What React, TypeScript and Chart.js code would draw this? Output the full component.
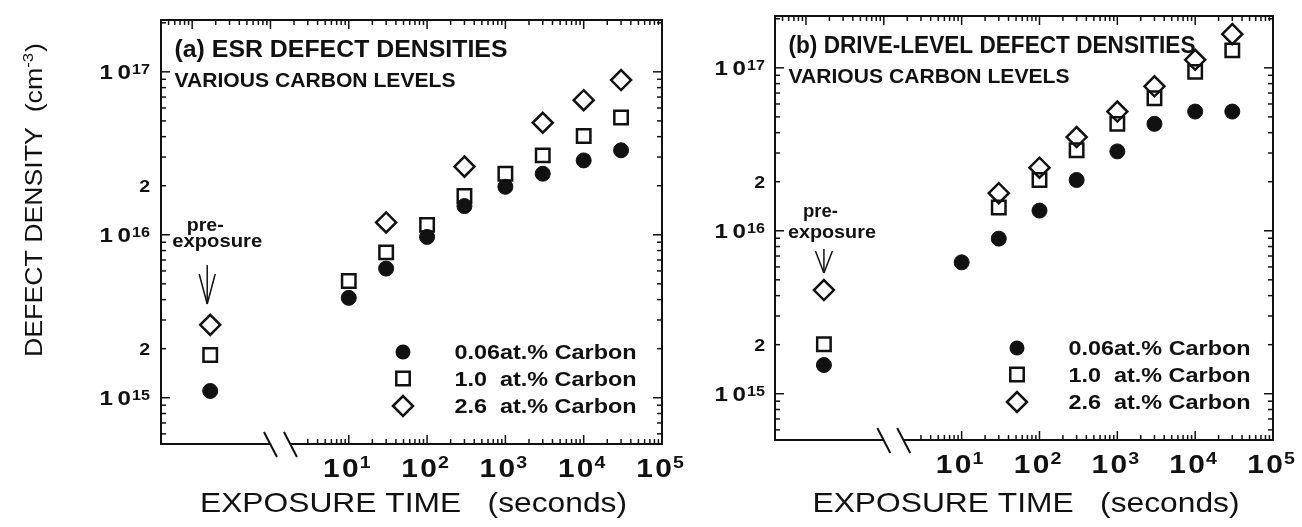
import React, { useEffect, useRef } from 'react';
import { Chart, registerables } from 'chart.js';

Chart.register(...registerables);

// ---------------- data ----------------
const EXPOSURE_TIMES = [10, 30, 100, 300, 1000, 3000, 10000, 30000];
const PRE_EXPOSURE_X = 0.17; // position used for the "pre-exposure" column (left of the axis break)
const SERIES_LABELS = ['0.06at.% Carbon', '1.0  at.% Carbon', '2.6  at.% Carbon'];

// (a) ESR defect densities, cm^-3  [0.06%, 1.0%, 2.6%] pre-exposure
const ESR_PRE = [1.1e15, 1.83e15, 2.8e15];
const ESR_C006 = [4.1e15, 6.2e15, 9.7e15, 1.5e16, 1.97e16, 2.37e16, 2.86e16, 3.3e16];
const ESR_C10 = [5.2e15, 7.8e15, 1.15e16, 1.73e16, 2.37e16, 3.07e16, 4.04e16, 5.25e16];
const ESR_C26 = [null, 1.19e16, null, 2.62e16, null, 4.87e16, 6.7e16, 8.9e16];

// (b) drive-level defect densities, cm^-3
const DL_PRE = [1.5e15, 2.01e15, 4.33e15];
const DL_C006 = [6.4e15, 8.95e15, 1.33e16, 2.05e16, 3.07e16, 4.53e16, 5.39e16, 5.39e16];
const DL_C10 = [null, 1.39e16, 2.05e16, 3.12e16, 4.53e16, 6.5e16, 9.44e16, 1.28e17];
const DL_C26 = [null, 1.7e16, 2.44e16, 3.76e16, 5.39e16, 7.7e16, 1.12e17, 1.61e17];

// axes
const X_MIN = 0.04;
const X_MAX = 1e5;
const Y_MIN = 5.2e14;
const Y_MAX = 2.08e17;
const X_BREAK = [1, 1.8];
const X_BOTTOM_TICK_START = 2.5;
const X_DECADE_TICKS = [10, 100, 1000, 10000, 100000];
const X_DECADE_EXPONENTS = ['1', '2', '3', '4', '5'];
const Y_DECADE_TICKS = [1e15, 1e16, 1e17];
const Y_DECADE_EXPONENTS = ['15', '16', '17'];
const Y_TWO_TICKS = [2e15, 2e16];

const FONT = '"Liberation Sans", Arial, Helvetica, sans-serif';
const INK = '#111';

const SERIES_STYLES = [
  { pointStyle: 'circle', radius: 7.5, fill: INK, width: 1 },
  { pointStyle: 'rect', radius: 9.5, fill: 'rgba(0,0,0,0)', width: 2.5 },
  { pointStyle: 'rectRot', radius: 10, fill: 'rgba(0,0,0,0)', width: 2.5 },
];

type PanelCfg = {
  key: string;
  canvasLeft: number;
  canvasWidth: number;
  padding: { left: number; right: number; top: number; bottom: number };
  title: string;
  titleWidth: number;
  subtitle: string;
  pre: number[];
  series: (number | null)[][];
  preText: { preDx: number; preY: number; preW: number; expDx: number; expY: number; expW: number };
  arrow: { dx: number; y0: number; y1: number; headY: number; half: number };
  yTitle: boolean;
  yLabelGap: number;
};

const PANELS: PanelCfg[] = [
  {
    key: 'a',
    canvasLeft: 0,
    canvasWidth: 700,
    padding: { left: 161, right: 38, top: 20, bottom: 83 },
    title: '(a) ESR DEFECT DENSITIES',
    titleWidth: 333,
    subtitle: 'VARIOUS CARBON LEVELS',
    pre: ESR_PRE,
    series: [ESR_C006, ESR_C10, ESR_C26],
    preText: { preDx: -5, preY: 231, preW: 37, expDx: 7, expY: 247, expW: 90 },
    arrow: { dx: -3, y0: 265, y1: 304, headY: 274, half: 8 },
    yTitle: true,
    yLabelGap: 11,
  },
  {
    key: 'b',
    canvasLeft: 700,
    canvasWidth: 602,
    padding: { left: 75, right: 29, top: 16, bottom: 87 },
    title: '(b) DRIVE-LEVEL DEFECT DENSITIES',
    titleWidth: 407,
    subtitle: 'VARIOUS CARBON LEVELS',
    pre: DL_PRE,
    series: [DL_C006, DL_C10, DL_C26],
    preText: { preDx: -3.5, preY: 217, preW: 35, expDx: 8, expY: 238, expW: 88 },
    arrow: { dx: 0, y0: 249, y1: 273, headY: 251, half: 8.5 },
    yTitle: false,
    yLabelGap: 10,
  },
];

// ---------------- helpers ----------------
function points(pre: number, vals: (number | null)[]) {
  const pts: { x: number; y: number }[] = [{ x: PRE_EXPOSURE_X, y: pre }];
  EXPOSURE_TIMES.forEach((t, i) => {
    const v = vals[i];
    if (v != null) pts.push({ x: t, y: v });
  });
  return pts;
}

function logTicks(min: number, max: number) {
  const out: { v: number; major: boolean }[] = [];
  for (let e = Math.floor(Math.log10(min)); e <= Math.ceil(Math.log10(max)); e++) {
    for (let m = 1; m <= 9; m++) {
      const v = m * Math.pow(10, e);
      if (v >= min * 1.0001 && v <= max * 0.9999) out.push({ v, major: m === 1 });
    }
  }
  return out;
}

function line(ctx: CanvasRenderingContext2D, x1: number, y1: number, x2: number, y2: number) {
  ctx.beginPath();
  ctx.moveTo(x1, y1);
  ctx.lineTo(x2, y2);
  ctx.stroke();
}

function txt(
  ctx: CanvasRenderingContext2D,
  s: string,
  x: number,
  y: number,
  font: string,
  align: 'left' | 'center' | 'right',
  width?: number,
  sx = 1
) {
  ctx.save();
  ctx.font = font;
  ctx.textAlign = 'left';
  ctx.textBaseline = 'alphabetic';
  const m = ctx.measureText(s).width;
  const k = width ? width / m : sx;
  const w = m * k;
  const x0 = align === 'center' ? x - w / 2 : align === 'right' ? x - w : x;
  ctx.translate(x0, y);
  ctx.scale(k, 1);
  ctx.fillText(s, 0, 0);
  ctx.restore();
}

function pow10Label(
  ctx: CanvasRenderingContext2D,
  exp: string,
  ax: number,
  base: number,
  size: number,
  supSize: number,
  raise: number,
  align: 'center' | 'right',
  sx: number,
  gap: number
) {
  ctx.save();
  ctx.textAlign = 'left';
  ctx.textBaseline = 'alphabetic';
  ctx.font = `bold ${size}px ${FONT}`;
  const w1 = ctx.measureText('1').width;
  const w0 = ctx.measureText('0').width;
  ctx.font = `bold ${supSize}px ${FONT}`;
  const ws = ctx.measureText(exp).width;
  const total = (w1 + gap + w0 + 1 + ws) * sx;
  const x0 = align === 'center' ? ax - total / 2 : ax - total;
  ctx.translate(x0, 0);
  ctx.scale(sx, 1);
  ctx.font = `bold ${size}px ${FONT}`;
  ctx.fillText('1', 0, base);
  ctx.fillText('0', w1 + gap, base);
  ctx.font = `bold ${supSize}px ${FONT}`;
  ctx.fillText(exp, w1 + gap + w0 + 1, base - raise);
  ctx.restore();
}

function marker(ctx: CanvasRenderingContext2D, idx: number, x: number, y: number) {
  const st = SERIES_STYLES[idx];
  ctx.save();
  ctx.strokeStyle = INK;
  ctx.fillStyle = INK;
  ctx.lineWidth = st.width;
  ctx.beginPath();
  if (st.pointStyle === 'circle') {
    ctx.arc(x, y, st.radius, 0, Math.PI * 2);
    ctx.fill();
  } else if (st.pointStyle === 'rect') {
    const h = st.radius * Math.SQRT1_2;
    ctx.rect(x - h, y - h, 2 * h, 2 * h);
    ctx.stroke();
  } else {
    const r = st.radius;
    ctx.moveTo(x - r, y);
    ctx.lineTo(x, y - r);
    ctx.lineTo(x + r, y);
    ctx.lineTo(x, y + r);
    ctx.closePath();
    ctx.stroke();
  }
  ctx.restore();
}

function decorPlugin(cfg: PanelCfg) {
  return {
    id: 'decor' + cfg.key,
    afterDraw(chart: any) {
      const ctx: CanvasRenderingContext2D = chart.ctx;
      const a = chart.chartArea;
      const xs = chart.scales.x;
      const ys = chart.scales.y;
      ctx.save();
      ctx.strokeStyle = INK;
      ctx.fillStyle = INK;
      ctx.lineCap = 'butt';

      // frame with axis break
      ctx.lineWidth = 2;
      const b1 = xs.getPixelForValue(X_BREAK[0]);
      const b2 = xs.getPixelForValue(X_BREAK[1]);
      line(ctx, a.left - 1, a.top, a.right + 1, a.top);
      line(ctx, a.left, a.top, a.left, a.bottom + 1);
      line(ctx, a.right, a.top, a.right, a.bottom + 1);
      line(ctx, a.left - 1, a.bottom, b1, a.bottom);
      line(ctx, b2, a.bottom, a.right + 1, a.bottom);
      [b1, b2].forEach((bx) => line(ctx, bx - 6.5, a.bottom - 12, bx + 6.5, a.bottom + 13));

      // ticks (inward, all four sides)
      ctx.lineWidth = 1.5;
      for (const t of logTicks(X_MIN, X_MAX)) {
        const px = xs.getPixelForValue(t.v);
        const len = t.major ? 9 : 5;
        line(ctx, px, a.top, px, a.top + len);
        if (t.v >= X_BOTTOM_TICK_START) line(ctx, px, a.bottom, px, a.bottom - len);
      }
      for (const t of logTicks(Y_MIN, Y_MAX)) {
        const py = ys.getPixelForValue(t.v);
        const len = t.major ? 9 : 5;
        line(ctx, a.left, py, a.left + len, py);
        line(ctx, a.right, py, a.right - len, py);
      }

      // tick labels
      X_DECADE_TICKS.forEach((v, i) => {
        const px = xs.getPixelForValue(v);
        pow10Label(ctx, X_DECADE_EXPONENTS[i], px - 2, a.bottom + 33, 26, 17, 9, 'center', 1.15, 2);
      });
      Y_DECADE_TICKS.forEach((v, i) => {
        const py = ys.getPixelForValue(v);
        pow10Label(ctx, Y_DECADE_EXPONENTS[i], a.left - cfg.yLabelGap, py + 7.5, 21, 14, 5, 'right', 1.15, 4);
      });
      Y_TWO_TICKS.forEach((v) => {
        const py = ys.getPixelForValue(v);
        txt(ctx, '2', a.left - cfg.yLabelGap, py + 6, `bold 17px ${FONT}`, 'right', undefined, 1.15);
      });

      // in-plot titles
      txt(ctx, cfg.title, a.left + 13.5, a.top + 37, `bold 23px ${FONT}`, 'left', cfg.titleWidth);
      txt(ctx, cfg.subtitle, a.left + 13.5, a.top + 66.5, `bold 20px ${FONT}`, 'left', 281);

      // pre-exposure note and arrow
      const ppx = xs.getPixelForValue(PRE_EXPOSURE_X);
      const p = cfg.preText;
      txt(ctx, 'pre-', ppx + p.preDx, p.preY, `bold 19px ${FONT}`, 'center', p.preW);
      txt(ctx, 'exposure', ppx + p.expDx, p.expY, `bold 19px ${FONT}`, 'center', p.expW);
      const ar = cfg.arrow;
      const axp = ppx + ar.dx;
      ctx.lineWidth = 1.5;
      line(ctx, axp, ar.y0, axp, ar.y1);
      line(ctx, axp - ar.half, ar.headY, axp, ar.y1);
      line(ctx, axp + ar.half, ar.headY, axp, ar.y1);

      // legend
      const rows = [332, 358.5, 386];
      SERIES_LABELS.forEach((lab, i) => {
        const ry = a.top + rows[i];
        marker(ctx, i, a.left + 242, ry);
        txt(ctx, lab, a.left + 293.5, ry + 7, `bold 20px ${FONT}`, 'left', 182);
      });

      // x-axis title
      txt(ctx, 'EXPOSURE TIME   (seconds)', (a.left + a.right) / 2 + 2, 512, `28px ${FONT}`, 'center', 427);

      // y-axis title (left panel only)
      if (cfg.yTitle) {
        ctx.save();
        ctx.translate(33, 200);
        ctx.rotate(-Math.PI / 2);
        ctx.textAlign = 'left';
        ctx.textBaseline = 'alphabetic';
        const f1 = `24px ${FONT}`;
        const f2 = `15px ${FONT}`;
        const s1 = 'DEFECT DENSITY  (cm';
        const s2 = '-3';
        const s3 = ')';
        ctx.font = f1;
        const w1 = ctx.measureText(s1).width;
        const w3 = ctx.measureText(s3).width;
        ctx.font = f2;
        const w2 = ctx.measureText(s2).width;
        const total = w1 + w2 + 1 + w3;
        const k = 314 / total;
        ctx.scale(k, 1);
        const x0 = -total / 2;
        ctx.font = f1;
        ctx.fillText(s1, x0, 8.5);
        ctx.font = f2;
        ctx.fillText(s2, x0 + w1, -0.5);
        ctx.font = f1;
        ctx.fillText(s3, x0 + w1 + w2 + 1, 8.5);
        ctx.restore();
      }
      ctx.restore();
    },
  };
}

function Panel({ cfg }: { cfg: PanelCfg }) {
  const ref = useRef<HTMLCanvasElement>(null);
  useEffect(() => {
    if (!ref.current) return;
    const datasets = cfg.series.map((vals, i) => {
      const st = SERIES_STYLES[i];
      return {
        label: SERIES_LABELS[i],
        data: points(cfg.pre[i], vals),
        pointStyle: st.pointStyle as any,
        pointRadius: st.radius,
        pointHoverRadius: st.radius,
        pointBackgroundColor: st.fill,
        pointBorderColor: INK,
        pointBorderWidth: st.width,
        showLine: false,
      };
    });
    const chart = new Chart(ref.current, {
      type: 'scatter',
      data: { datasets },
      options: {
        animation: false,
        responsive: false,
        devicePixelRatio: 1,
        events: [],
        layout: { padding: cfg.padding },
        plugins: {
          legend: { display: false },
          tooltip: { enabled: false },
        },
        scales: {
          x: { type: 'logarithmic', min: X_MIN, max: X_MAX, bounds: 'data', display: false },
          y: { type: 'logarithmic', min: Y_MIN, max: Y_MAX, bounds: 'data', display: false },
        },
      } as any,
      plugins: [decorPlugin(cfg)],
    });
    return () => chart.destroy();
  }, [cfg]);
  return (
    <canvas
      ref={ref}
      width={cfg.canvasWidth}
      height={527}
      style={{ position: 'absolute', left: cfg.canvasLeft, top: 0, width: cfg.canvasWidth, height: 527 }}
    />
  );
}

export default function App() {
  return (
    <div style={{ position: 'absolute', left: 0, top: 0, width: 1302, height: 527, background: '#fff', overflow: 'hidden' }}>
      {PANELS.map((p) => (
        <Panel key={p.key} cfg={p} />
      ))}
    </div>
  );
}
